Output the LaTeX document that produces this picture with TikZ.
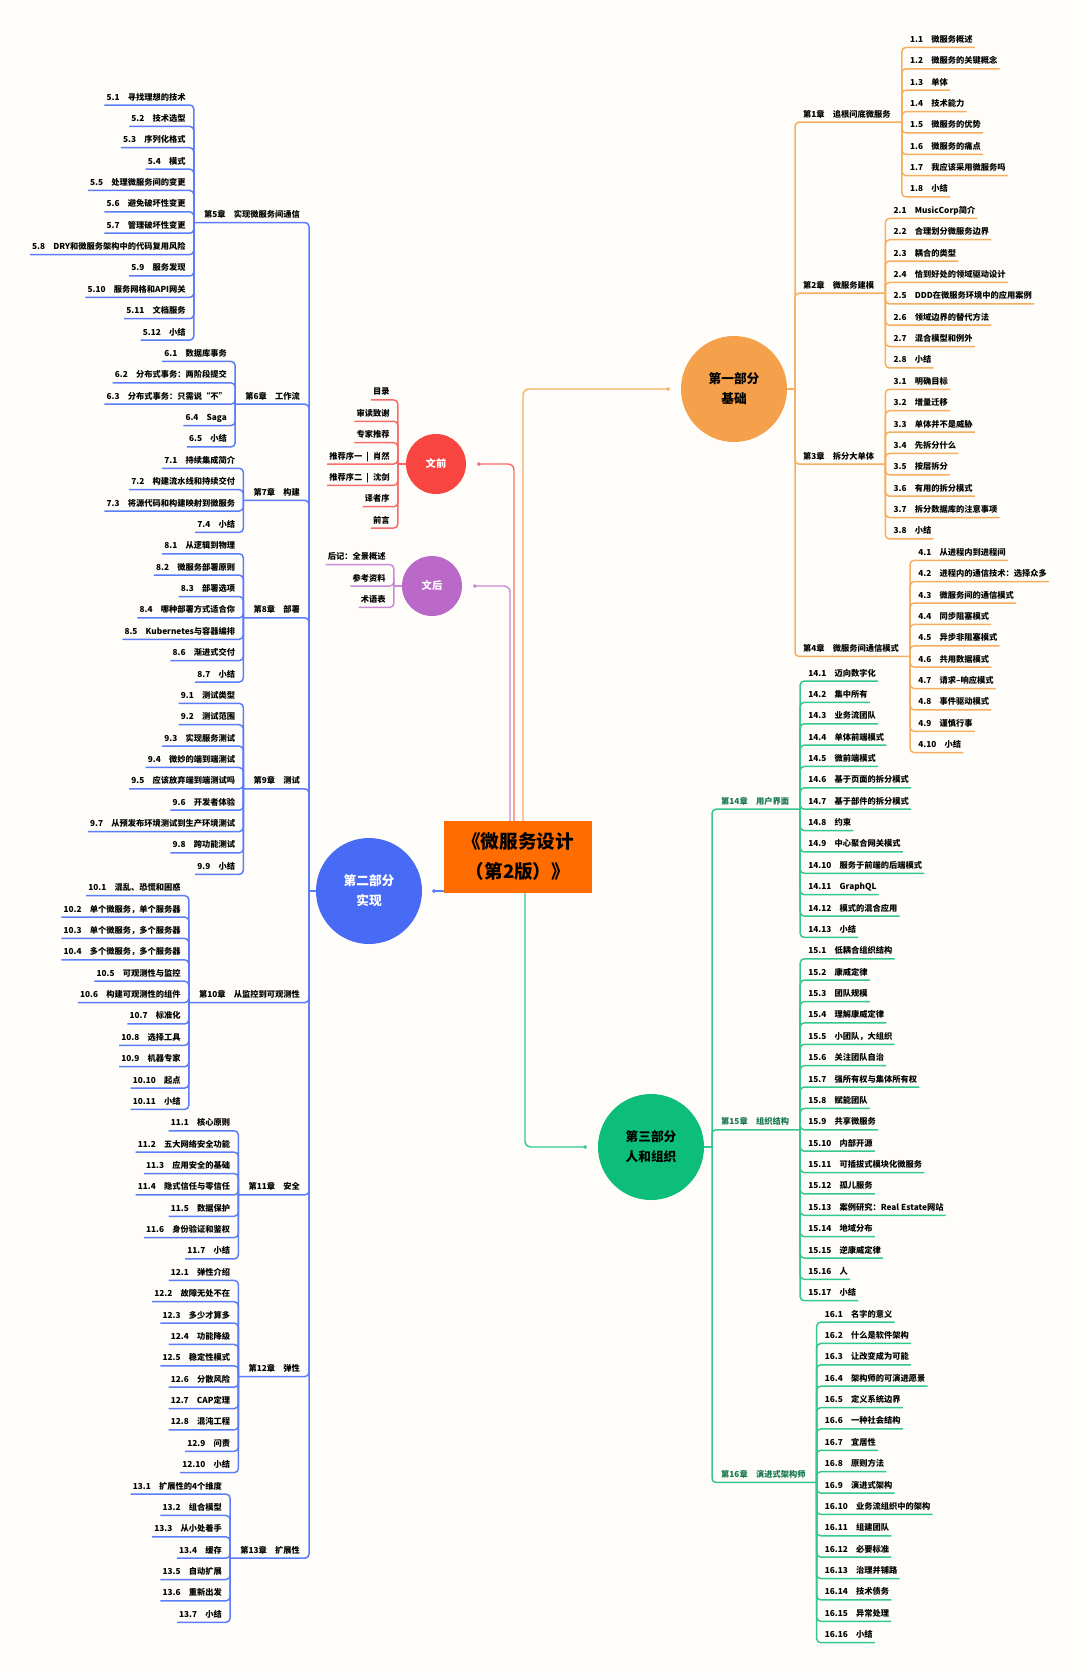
\documentclass[tikz,border=0pt]{standalone}
\usepackage{fontspec}
\setmainfont{Noto Sans CJK SC}
\usetikzlibrary{calc,arrows.meta}
\definecolor{kbg}{HTML}{FFFDFA}
\definecolor{kora}{HTML}{F5A04B}
\definecolor{koral}{HTML}{F7AE60}
\definecolor{kblue}{HTML}{486BF6}
\definecolor{kbluel}{HTML}{5C7DFA}
\definecolor{kgreen}{HTML}{0CBE7A}
\definecolor{kgreenl}{HTML}{34C88C}
\definecolor{kgreend}{HTML}{16784D}
\definecolor{kred}{HTML}{F94541}
\definecolor{kredl}{HTML}{F86C6A}
\definecolor{kpurp}{HTML}{BA69C9}
\definecolor{kpurpl}{HTML}{C98AD6}
\definecolor{ktitle}{HTML}{FF6D00}
\tikzset{
  leaf/.style={font=\bfseries\fontsize{8.25}{10}\selectfont,inner sep=1pt,text height=8pt,text depth=0pt},
  chap/.style={leaf},
  chapC/.style={leaf,text=kgreend},
  partnode/.style={circle,minimum size=106pt,inner sep=0pt,align=center,font=\bfseries\fontsize{12.7}{20}\selectfont},
  extranode/.style={circle,minimum size=60pt,inner sep=0pt,text=white,font=\bfseries\fontsize{10.3}{12}\selectfont},
  lineA/.style={draw=koral,line width=1.5pt,rounded corners=4pt},
  lineB/.style={draw=kbluel,line width=1.5pt,rounded corners=4pt},
  lineC/.style={draw=kgreenl,line width=1.5pt,rounded corners=4pt},
  lineR/.style={draw=kredl,line width=1.5pt,rounded corners=4pt},
  lineP/.style={draw=kpurpl,line width=1.5pt,rounded corners=4pt},
  link/.style={line width=1.4pt,rounded corners=6pt,-{Circle[length=3.5pt]},shorten >=11pt},
}
\begin{document}
\begin{tikzpicture}[x=1pt,y=1pt]
\fill[kbg] (0,0) rectangle (1080,-1674);
\useasboundingbox (0,0) rectangle (1080,-1674);
\pgfmathsetmacro{\krow}{21.37}
\pgfmathsetmacro{\ktopA}{38.4}
\pgfmathsetmacro{\ktopB}{96}
\pgfmathsetmacro{\ktopC}{672}
% centre and the five main branches
\node[fill=ktitle,minimum width=148pt,minimum height=72pt,inner sep=0pt,align=center,font=\bfseries\fontsize{18.6}{30}\selectfont] (title) at (518,-857) {《微服务设计\\（第2版）》};
\node[partnode,fill=kora] (p1) at (734,-389) {第一部分\\基础};
\node[partnode,fill=kblue,text=white] (p2) at (369,-891) {第二部分\\实现};
\node[partnode,fill=kgreen] (p3) at (651,-1147) {第三部分\\人和组织};
\node[extranode,fill=kred] (pre) at (436,-464) {文前};
\node[extranode,fill=kpurp] (post) at (432,-586) {文后};
\draw[link,koral] ($(title.north)+(5,0)$) |- (p1);
\draw[link,kredl] ($(title.north)+(-4,0)$) |- (pre);
\draw[link,kpurpl] ($(title.north)+(-8,0)$) |- (post);
\draw[link,kbluel,shorten >=10pt] (title.west |- p2) -- (p2);
\draw[link,kgreenl] ($(title.south)+(7,0)$) |- (p3);
\coordinate (tA) at (795,-389);
\coordinate (tB) at (309,-891);
\coordinate (tC) at (712,-1147);
\draw[lineA] (p1.east) -- (tA);
\draw[lineB] (p2.west) -- (tB);
\draw[lineC] (p3.east) -- (tC);
% front and back matter
\coordinate (bpre) at ($(pre.west)+(-8,0)$);
\draw[lineR] (pre.west) -- (bpre);
\foreach \kt [count=\ki from 0] in {目录,审读致谢,专家推荐,{推荐序一\enspace|\enspace 肖然},{推荐序二\enspace|\enspace 沈剑},译者序,前言}{
  \pgfmathsetmacro{\kdy}{9+(3-\ki)*\krow}
  \node[leaf,anchor=east] (pre\ki) at ($(bpre)+(-7,\kdy)$) {\kt};
  \draw[lineR] (bpre) |- ($(pre\ki.west)+(-1,-9)$);
}
\coordinate (bpost) at ($(post.west)+(-8,0)$);
\draw[lineP] (post.west) -- (bpost);
\foreach \kt [count=\ki from 0] in {后记：全景概述,参考资料,术语表}{
  \pgfmathsetmacro{\kdy}{9+(1-\ki)*\krow}
  \node[leaf,anchor=east] (post\ki) at ($(bpost)+(-7,\kdy)$) {\kt};
  \draw[lineP] (bpost) |- ($(post\ki.west)+(-1,-9)$);
}
% part 1
\foreach \kc/\kr/\kcnt/\kl/\kitems in {%
1/0/8/{第1章\quad 追根问底微服务}/{1.1/微服务概述,1.2/微服务的关键概念,1.3/单体,1.4/技术能力,1.5/微服务的优势,1.6/微服务的痛点,1.7/我应该采用微服务吗,1.8/小结},%
2/8/8/{第2章\quad 微服务建模}/{2.1/MusicCorp简介,2.2/合理划分微服务边界,2.3/耦合的类型,2.4/恰到好处的领域驱动设计,2.5/DDD在微服务环境中的应用案例,2.6/领域边界的替代方法,2.7/混合模型和例外,2.8/小结},%
3/16/8/{第3章\quad 拆分大单体}/{3.1/明确目标,3.2/增量迁移,3.3/单体并不是威胁,3.4/先拆分什么,3.5/按层拆分,3.6/有用的拆分模式,3.7/拆分数据库的注意事项,3.8/小结},%
4/24/10/{第4章\quad 微服务间通信模式}/{4.1/从进程内到进程间,4.2/进程内的通信技术：选择众多,4.3/微服务间的通信模式,4.4/同步阻塞模式,4.5/异步非阻塞模式,4.6/共用数据模式,4.7/请求–响应模式,4.8/事件驱动模式,4.9/谨慎行事,4.10/小结}%
}{
  \pgfmathsetmacro{\kym}{\ktopA+(\kr+(\kcnt-1)/2)*\krow}
  \node[chap,anchor=west] (ch\kc) at (802,-\kym) {\kl};
  \coordinate (b\kc) at ($(ch\kc.east)+(10,-9)$);
  \draw[lineA] (tA) |- (b\kc);
  \foreach \kn/\kt [count=\ki from 0] in \kitems{
    \pgfmathsetmacro{\kdy}{9+((\kcnt-1)/2-\ki)*\krow}
    \node[leaf,anchor=west] (i\kc-\ki) at ($(b\kc)+(7,\kdy)$) {\kn\quad\kt};
    \draw[lineA] (b\kc) |- ($(i\kc-\ki.east)+(1,-9)$);
  }
}
% part 2
\foreach \kc/\kr/\kcnt/\kl/\kitems in {%
5/0/12/{第5章\quad 实现微服务间通信}/{5.1/寻找理想的技术,5.2/技术选型,5.3/序列化格式,5.4/模式,5.5/处理微服务间的变更,5.6/避免破坏性变更,5.7/管理破坏性变更,5.8/DRY和微服务架构中的代码复用风险,5.9/服务发现,5.10/服务网格和API网关,5.11/文档服务,5.12/小结},%
6/12/5/{第6章\quad 工作流}/{6.1/数据库事务,6.2/分布式事务：两阶段提交,6.3/分布式事务：只需说“不”,6.4/Saga,6.5/小结},%
7/17/4/{第7章\quad 构建}/{7.1/持续集成简介,7.2/构建流水线和持续交付,7.3/将源代码和构建映射到微服务,7.4/小结},%
8/21/7/{第8章\quad 部署}/{8.1/从逻辑到物理,8.2/微服务部署原则,8.3/部署选项,8.4/哪种部署方式适合你,8.5/Kubernetes与容器编排,8.6/渐进式交付,8.7/小结},%
9/28/9/{第9章\quad 测试}/{9.1/测试类型,9.2/测试范围,9.3/实现服务测试,9.4/微妙的端到端测试,9.5/应该放弃端到端测试吗,9.6/开发者体验,9.7/从预发布环境测试到生产环境测试,9.8/跨功能测试,9.9/小结},%
10/37/11/{第10章\quad 从监控到可观测性}/{10.1/混乱、恐慌和困惑,10.2/单个微服务，单个服务器,10.3/单个微服务，多个服务器,10.4/多个微服务，多个服务器,10.5/可观测性与监控,10.6/构建可观测性的组件,10.7/标准化,10.8/选择工具,10.9/机器专家,10.10/起点,10.11/小结},%
11/48/7/{第11章\quad 安全}/{11.1/核心原则,11.2/五大网络安全功能,11.3/应用安全的基础,11.4/隐式信任与零信任,11.5/数据保护,11.6/身份验证和鉴权,11.7/小结},%
12/55/10/{第12章\quad 弹性}/{12.1/弹性介绍,12.2/故障无处不在,12.3/多少才算多,12.4/功能降级,12.5/稳定性模式,12.6/分散风险,12.7/CAP定理,12.8/混沌工程,12.9/问责,12.10/小结},%
13/65/7/{第13章\quad 扩展性}/{13.1/扩展性的4个维度,13.2/组合模型,13.3/从小处着手,13.4/缓存,13.5/自动扩展,13.6/重新出发,13.7/小结}%
}{
  \pgfmathsetmacro{\kym}{\ktopB+(\kr+(\kcnt-1)/2)*\krow}
  \node[chap,anchor=east] (ch\kc) at (301,-\kym) {\kl};
  \coordinate (b\kc) at ($(ch\kc.west)+(-9,-9)$);
  \draw[lineB] (tB) |- (b\kc);
  \foreach \kn/\kt [count=\ki from 0] in \kitems{
    \pgfmathsetmacro{\kdy}{9+((\kcnt-1)/2-\ki)*\krow}
    \node[leaf,anchor=east] (i\kc-\ki) at ($(b\kc)+(-7,\kdy)$) {\kn\quad\kt};
    \draw[lineB] (b\kc) |- ($(i\kc-\ki.west)+(-1,-9)$);
  }
}
% part 3
\foreach \kc/\kr/\kcnt/\kl/\kitems in {%
14/0/13/{第14章\quad 用户界面}/{14.1/迈向数字化,14.2/集中所有,14.3/业务流团队,14.4/单体前端模式,14.5/微前端模式,14.6/基于页面的拆分模式,14.7/基于部件的拆分模式,14.8/约束,14.9/中心聚合网关模式,14.10/服务于前端的后端模式,14.11/GraphQL,14.12/模式的混合应用,14.13/小结},%
15/13/17/{第15章\quad 组织结构}/{15.1/低耦合组织结构,15.2/康威定律,15.3/团队规模,15.4/理解康威定律,15.5/小团队，大组织,15.6/关注团队自治,15.7/强所有权与集体所有权,15.8/赋能团队,15.9/共享微服务,15.10/内部开源,15.11/可插拔式模块化微服务,15.12/孤儿服务,15.13/案例研究：Real Estate网站,15.14/地域分布,15.15/逆康威定律,15.16/人,15.17/小结},%
16/30/16/{第16章\quad 演进式架构师}/{16.1/名字的意义,16.2/什么是软件架构,16.3/让改变成为可能,16.4/架构师的可演进愿景,16.5/定义系统边界,16.6/一种社会结构,16.7/宜居性,16.8/原则方法,16.9/演进式架构,16.10/业务流组织中的架构,16.11/组建团队,16.12/必要标准,16.13/治理并铺路,16.14/技术债务,16.15/异常处理,16.16/小结}%
}{
  \pgfmathsetmacro{\kym}{\ktopC+(\kr+(\kcnt-1)/2)*\krow}
  \node[chapC,anchor=west] (ch\kc) at (720,-\kym) {\kl};
  \coordinate (b\kc) at ($(ch\kc.east)+(10,-9)$);
  \draw[lineC] (tC) |- (b\kc);
  \foreach \kn/\kt [count=\ki from 0] in \kitems{
    \pgfmathsetmacro{\kdy}{9+((\kcnt-1)/2-\ki)*\krow}
    \node[leaf,anchor=west] (i\kc-\ki) at ($(b\kc)+(7,\kdy)$) {\kn\quad\kt};
    \draw[lineC] (b\kc) |- ($(i\kc-\ki.east)+(1,-9)$);
  }
}
\end{tikzpicture}
\end{document}
